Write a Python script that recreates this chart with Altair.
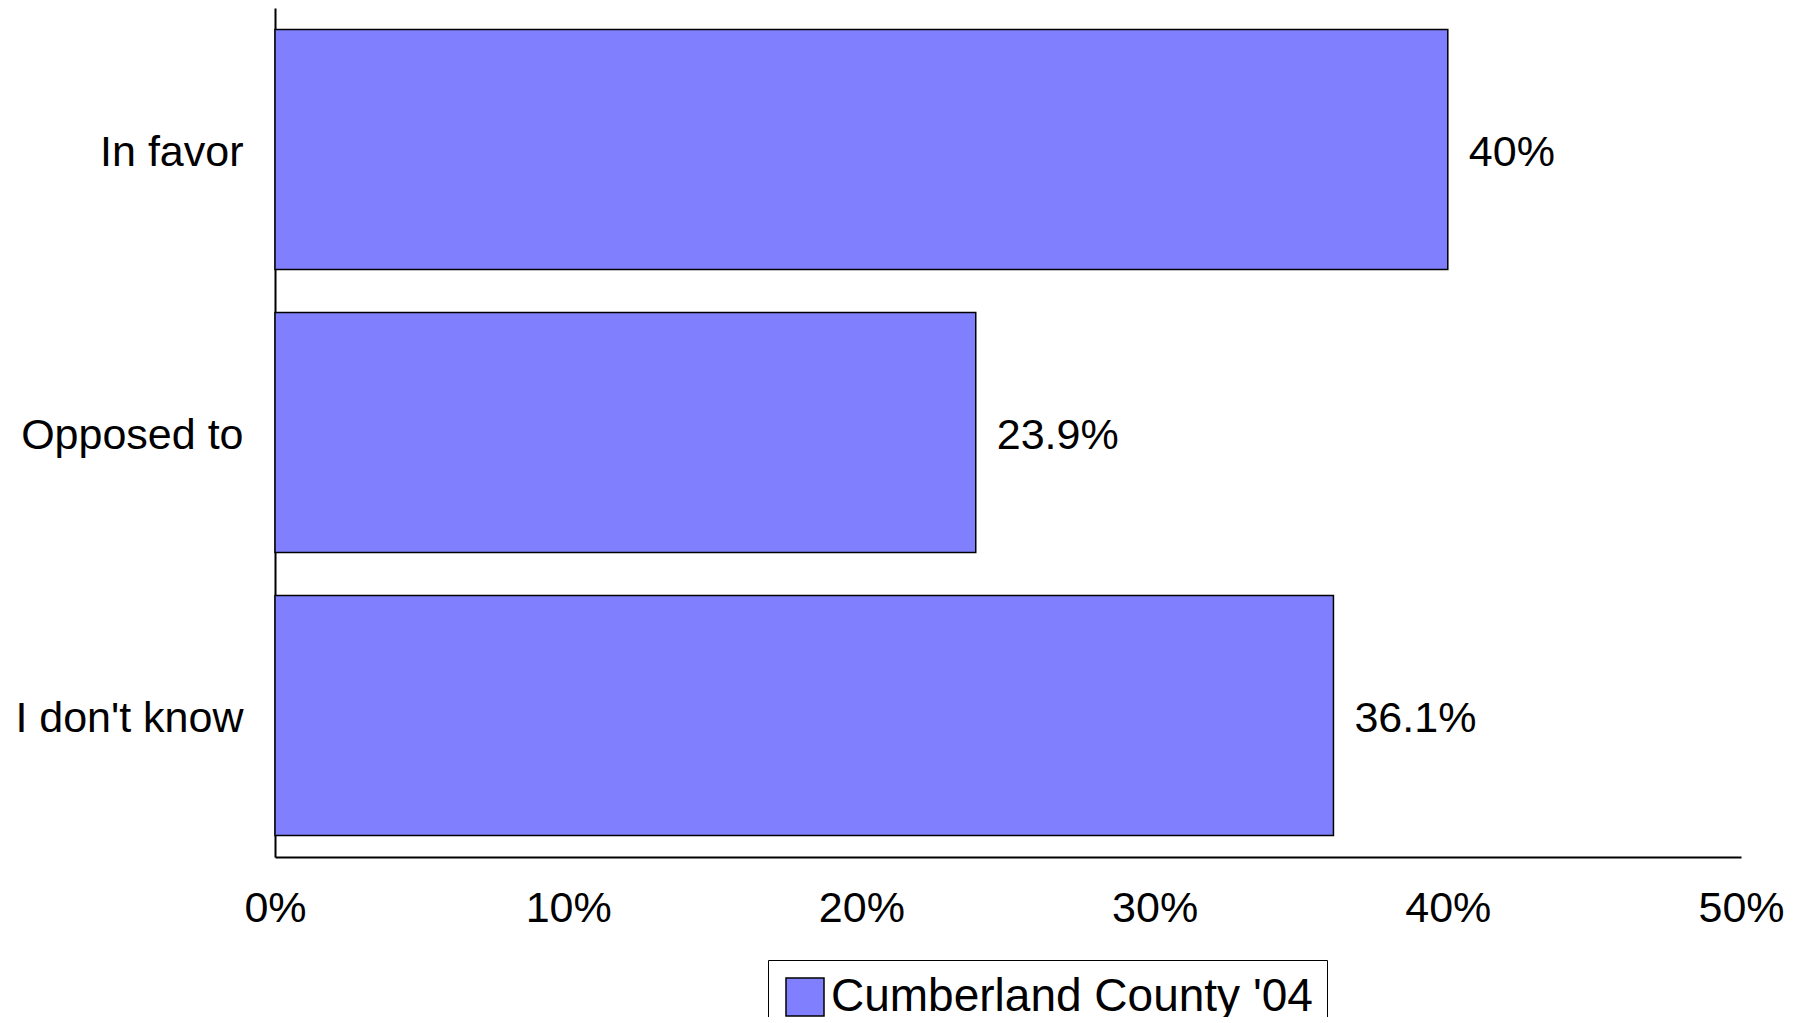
import altair as alt
import pandas as pd

categories = ["In favor", "Opposed to", "I don't know"]
values = [40.0, 23.9, 36.1]
series_name = "Cumberland County '04"
x_ticks = [0, 10, 20, 30, 40, 50]

df = pd.DataFrame({"category": categories, "value": values, "series": [series_name] * len(categories)})

FONT = "Liberation Sans"

y_enc = alt.Y(
    "category:N",
    sort=categories,
    scale=alt.Scale(paddingInner=0.152, paddingOuter=0.076),
    axis=alt.Axis(
        title=None, ticks=False, tickSize=0, labelFontSize=43, labelFont=FONT,
        labelColor="black", labelPadding=32, labelOffset=3, labelLimit=0,
        domainColor="black", domainWidth=2, grid=False,
    ),
)
x_enc = alt.X(
    "value:Q",
    scale=alt.Scale(domain=[0, 50], nice=False),
    axis=alt.Axis(
        title=None, values=x_ticks, labelExpr="datum.value + '%'", ticks=False,
        tickSize=0, labelFontSize=43, labelFont=FONT, labelColor="black",
        labelPadding=30, domainColor="black", domainWidth=2, grid=False,
        labelFlush=False,
    ),
)

bars = alt.Chart(df).mark_bar(stroke="black", strokeWidth=1.5).encode(
    y=y_enc,
    x=x_enc,
    color=alt.Color(
        "series:N",
        scale=alt.Scale(domain=[series_name], range=["#8080FF"]),
        legend=alt.Legend(
            title=None, orient="none", legendX=493, legendY=952,
            strokeColor="black", padding=14, symbolType="square",
            symbolSize=1444, symbolStrokeColor="black", symbolStrokeWidth=1.5,
            symbolFillColor="#8080FF", labelFontSize=46, labelFont=FONT,
            labelColor="black", labelOffset=3, labelLimit=0,
        ),
    ),
)

labels = alt.Chart(df).transform_calculate(
    label="format(datum.value, '.1~f') + '%'"
).mark_text(
    align="left", baseline="middle", dx=21, dy=3, fontSize=43, font=FONT, color="black"
).encode(
    y=alt.Y("category:N", sort=categories),
    x="value:Q",
    text="label:N",
)

chart = (bars + labels).properties(
    width=1466,
    height=849,
    autosize=alt.AutoSizeParams(type="none"),
    padding={"left": 267, "top": 0, "right": 50, "bottom": 160},
).configure_view(stroke=None)

chart.save("out.html", embed_options={"renderer": "svg", "actions": False})
